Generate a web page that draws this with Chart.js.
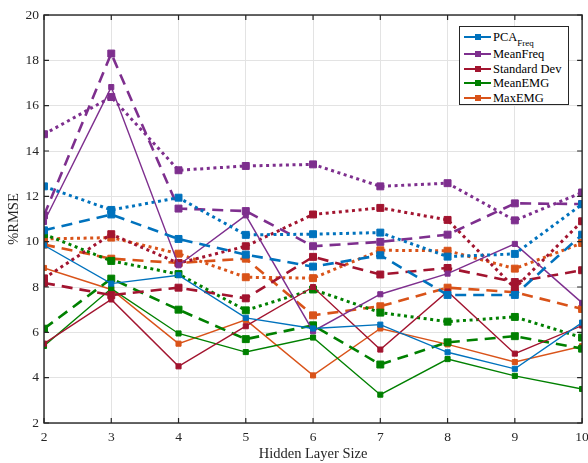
<!DOCTYPE html>
<html>
<head>
<meta charset="utf-8">
<script src="https://cdn.jsdelivr.net/npm/chart.js@4.4.0/dist/chart.umd.min.js"></script>
<style>
  body { margin: 0; background: #fff; }
  #wrap { position: relative; width: 588px; height: 463px; }
  #legend { position: absolute; left: 459px; top: 26px; width: 108px; height: 77px; border: 1px solid #262626; background: #fff; font-family: "Liberation Serif", serif; font-size: 12.5px; color: #000; }
  .row { position: absolute; left: 0; width: 108px; height: 14px; }
  .row .ln { position: absolute; left: 4px; width: 27px; height: 1.6px; top: 6.2px; }
  .row .mk { position: absolute; left: 14.5px; width: 6px; height: 6px; top: 4px; }
  .row .tx { position: absolute; left: 33px; top: 0; white-space: nowrap; line-height: 14px; }
  .row .sb { font-size: 9px; position: relative; top: 5px; }
</style>
</head>
<body>
<div id="wrap">
  <canvas id="chart" width="588" height="463"></canvas>
  <div id="legend"></div>
</div>
<script>
const hiddenSizes = [2, 3, 4, 5, 6, 7, 8, 9, 10];
const yTicks = [2, 4, 6, 8, 10, 12, 14, 16, 18, 20];

// three runs per feature: solid, dashed, dotted
const pcaSolid = [9.84, 8.15, 8.52, 6.64, 6.17, 6.34, 5.12, 4.39, 6.43];
const pcaDashed = [10.5, 11.2, 10.12, 9.43, 8.9, 9.4, 7.65, 7.65, 10.31];
const pcaDotted = [12.44, 11.4, 11.94, 10.3, 10.33, 10.4, 9.34, 9.46, 11.65];

const meanFreqSolid = [10.87, 16.82, 8.96, 11.16, 6.05, 7.68, 8.59, 9.9, 7.3];
const meanFreqDashed = [11.16, 18.3, 11.46, 11.35, 9.8, 9.99, 10.31, 11.69, 11.66];
const meanFreqDotted = [14.74, 16.38, 13.15, 13.34, 13.41, 12.44, 12.58, 10.94, 12.17];

const stdDevSolid = [5.5, 7.45, 4.5, 6.27, 8.0, 5.24, 7.8, 5.06, 6.3];
const stdDevDashed = [8.18, 7.64, 7.97, 7.5, 9.33, 8.55, 8.84, 8.22, 8.74];
const stdDevDotted = [8.38, 10.33, 9.05, 9.8, 11.2, 11.49, 10.96, 7.95, 10.9];

const meanEmgSolid = [5.4, 7.93, 5.95, 5.13, 5.77, 3.25, 4.82, 4.08, 3.5];
const meanEmgDashed = [6.16, 8.37, 7.0, 5.7, 6.31, 4.58, 5.56, 5.83, 5.28];
const meanEmgDotted = [10.33, 9.15, 8.57, 6.97, 7.89, 6.87, 6.47, 6.68, 5.77];

const maxEmgSolid = [8.84, 7.89, 5.5, 6.55, 4.1, 6.17, 5.47, 4.69, 5.39];
const maxEmgDashed = [9.87, 9.25, 9.06, 9.25, 6.75, 7.15, 7.97, 7.77, 7.03];
const maxEmgDotted = [10.12, 10.18, 9.47, 8.43, 8.39, 9.62, 9.6, 8.81, 9.94];

const featureNames = ["PCA", "MeanFreq", "Standard Dev", "MeanEMG", "MaxEMG"];
const featureColors = ["#0072BD", "#7E2F8E", "#A2142F", "#008000", "#D95319"];
const featureRuns = [
  [pcaSolid, pcaDashed, pcaDotted],
  [meanFreqSolid, meanFreqDashed, meanFreqDotted],
  [stdDevSolid, stdDevDashed, stdDevDotted],
  [meanEmgSolid, meanEmgDashed, meanEmgDotted],
  [maxEmgSolid, maxEmgDashed, maxEmgDotted],
];

const styles = [
  { width: 1.4, dash: [], radius: 3.6 },
  { width: 2.6, dash: [11, 7], radius: 4.9 },
  { width: 3, dash: [3, 3.6], radius: 4.9 },
];

const datasets = [];
featureRuns.forEach((runs, i) => {
  runs.forEach((vals, j) => {
    const st = styles[j];
    datasets.push({
      label: featureNames[i] + " " + j,
      data: vals.map((v, k) => ({ x: hiddenSizes[k], y: v })),
      borderColor: featureColors[i],
      backgroundColor: featureColors[i],
      borderWidth: st.width,
      borderDash: st.dash,
      pointStyle: "rect",
      pointRadius: st.radius,
      pointBorderWidth: 1,
      pointBackgroundColor: featureColors[i],
      pointBorderColor: featureColors[i],
      tension: 0,
      fill: false,
    });
  });
});

// axes box with inward ticks, MATLAB style
const frame = {
  id: "frame",
  afterDatasetsDraw(chart) {
    const { ctx, chartArea: a, scales } = chart;
    ctx.save();
    ctx.strokeStyle = "#262626";
    ctx.lineWidth = 1.2;
    ctx.beginPath();
    scales.x.ticks.forEach((t) => {
      const px = scales.x.getPixelForValue(t.value);
      ctx.moveTo(px, a.bottom); ctx.lineTo(px, a.bottom - 5);
      ctx.moveTo(px, a.top); ctx.lineTo(px, a.top + 5);
    });
    scales.y.ticks.forEach((t) => {
      const py = scales.y.getPixelForValue(t.value);
      ctx.moveTo(a.left, py); ctx.lineTo(a.left + 5, py);
      ctx.moveTo(a.right, py); ctx.lineTo(a.right - 5, py);
    });
    ctx.stroke();
    ctx.lineWidth = 1.4;
    ctx.strokeRect(a.left, a.top, a.right - a.left, a.bottom - a.top);
    ctx.restore();
  },
};

const tickFont = { family: "Liberation Serif", size: 13.5 };

new Chart(document.getElementById("chart"), {
  type: "line",
  data: { datasets },
  plugins: [frame],
  options: {
    responsive: false,
    animation: false,
    layout: { padding: { top: 15, right: 5, left: 0, bottom: 0 } },
    plugins: { legend: { display: false }, tooltip: { enabled: false } },
    scales: {
      x: {
        type: "linear",
        min: 2,
        max: 10,
        afterBuildTicks: (s) => { s.ticks = hiddenSizes.map((v) => ({ value: v })); },
        afterFit: (s) => { s.height = 40; s.paddingLeft = 0; s.paddingRight = 0; },
        grid: { color: "#e3e3e3", drawTicks: false },
        border: { display: false },
        ticks: { font: tickFont, color: "#262626", padding: 6 },
        title: { display: true, text: "Hidden Layer Size", font: { family: "Liberation Serif", size: 14.5 }, color: "#262626", padding: { top: 0, bottom: 0 } },
      },
      y: {
        min: 2,
        max: 20,
        afterBuildTicks: (s) => { s.ticks = yTicks.map((v) => ({ value: v })); },
        afterFit: (s) => { s.width = 44; s.paddingTop = 0; s.paddingBottom = 0; },
        grid: { color: "#e3e3e3", drawTicks: false },
        border: { display: false },
        ticks: { font: tickFont, color: "#262626", padding: 5 },
        title: { display: true, text: "%RMSE", font: { family: "Liberation Serif", size: 14.5 }, color: "#262626", padding: { top: 5, bottom: 0 } },
      },
    },
  },
});

// legend with the subscript, one entry per feature
const legendRowCenters = [10, 27, 42, 56, 71];
const legend = document.getElementById("legend");
featureNames.forEach((name, i) => {
  const row = document.createElement("div");
  row.className = "row";
  row.style.top = (legendRowCenters[i] - 7) + "px";
  const label = i === 0 ? 'PCA<span class="sb">Freq</span>' : name;
  row.innerHTML = '<span class="ln" style="background:' + featureColors[i] + '"></span>' +
    '<span class="mk" style="background:' + featureColors[i] + '"></span>' +
    '<span class="tx">' + label + '</span>';
  legend.appendChild(row);
});
</script>
</body>
</html>
